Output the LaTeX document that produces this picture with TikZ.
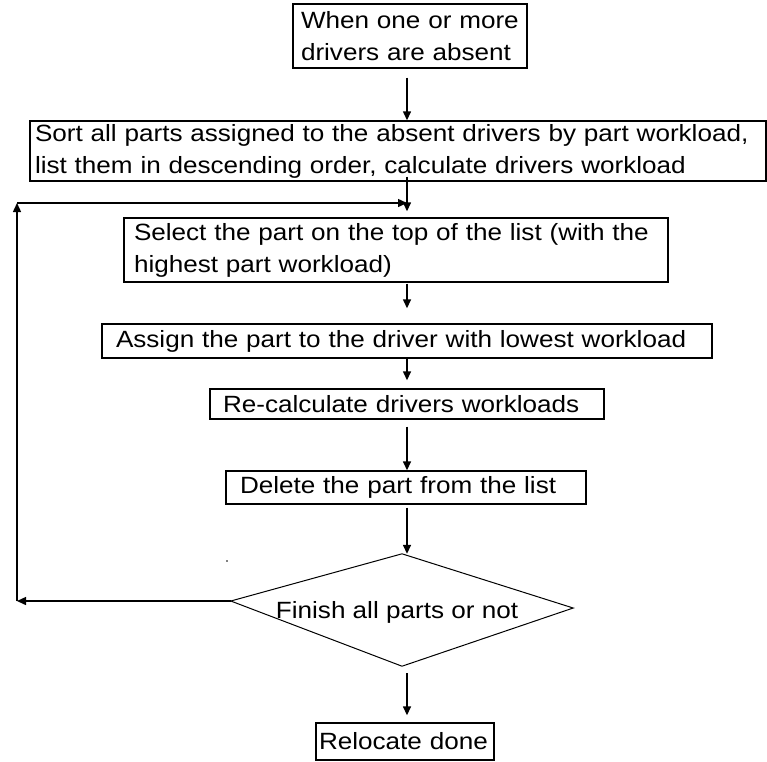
\documentclass[tikz,border=0pt]{standalone}
\usepackage{fontspec}
\setmainfont{Liberation Sans}[FakeStretch=1.11]
\usetikzlibrary{arrows.meta,shapes.geometric}
\begin{document}
\begin{tikzpicture}[x=1pt,y=-1pt,
  every node/.style={font=\fontsize{23.5}{32}\selectfont},
  box/.style={draw, line width=1.4pt, align=left, inner ysep=0pt},
  flow/.style={line width=1.4pt, -{Triangle[length=9pt,width=8pt]}},
  decision/.style={shape=diamond, minimum width=342pt, minimum height=112pt, inner sep=0pt}]
\useasboundingbox (0,0) rectangle (767,761);

% process steps
\node[box, text width=218pt, inner xsep=8pt, minimum height=64pt] (b1) at (410,36)
  {When one or more\\drivers are absent};
\node[box, text width=726pt, inner xsep=5pt, minimum height=60pt] (b2) at (398,151)
  {Sort all parts assigned to the absent drivers by part workload,\\list them in descending order, calculate drivers workload};
\node[box, text width=524pt, inner xsep=10pt, minimum height=64pt] (b3) at (396,250)
  {Select the part on the top of the list (with the\\highest part workload)};
\node[box, text width=582pt, inner xsep=14pt, minimum height=34pt] (b4) at (407,341)
  {Assign the part to the driver with lowest workload};
\node[box, text width=368pt, inner xsep=13pt, minimum height=30pt] (b5) at (407,404)
  {Re-calculate drivers workloads};
\node[box, text width=332pt, inner xsep=14pt, minimum height=33pt] (b6) at (406,487.5)
  {Delete the part from the list};
\node[decision] (dm) at (402,610) {};
\node (dmt) at (397,612) {Finish all parts or not};
\node[box, text width=172pt, inner xsep=3pt, minimum height=37pt] (b7) at (405,741.5)
  {Relocate done};

% decision outline
\draw[line width=1pt] (dm.north) -- ([yshift=9pt]dm.west) -- (dm.south)
  -- ([yshift=2pt]dm.east) -- cycle;

% guide coordinates for the main axis and the return loop
\coordinate (ax) at (407,0);
\coordinate (lx) at (17,0);
\coordinate (lp) at (17,203);

% main flow
\draw[flow] ([yshift=-9pt]b1.south -| ax) -- (b2.north -| ax);
\draw[flow] ([yshift=5pt]b2.south -| ax) -- ([yshift=6pt]b3.north -| ax);
\draw[flow] ([yshift=-1pt]b3.south -| ax) -- ([yshift=15pt]b4.north -| ax);
\draw[flow] (b4.south -| ax) -- ([yshift=8pt]b5.north -| ax);
\draw[flow] ([yshift=-7pt]b5.south -| ax) -- (b6.north -| ax);
\draw[flow] ([yshift=-3pt]b6.south -| ax) -- (dm.north -| ax);
\draw[flow] ([yshift=-7pt]dm.south -| ax) -- ([yshift=7pt]b7.north -| ax);

% return loop
\draw[flow] ([yshift=9pt]dm.west) -- ([yshift=9pt]dm.west -| lx);
\draw[flow] ([yshift=9pt]dm.west -| lx) -- (lp);
\draw[flow] (lp) -- (lp -| ax);

% small stray mark
\fill (227,561) circle (0.9pt);
\end{tikzpicture}
\end{document}
